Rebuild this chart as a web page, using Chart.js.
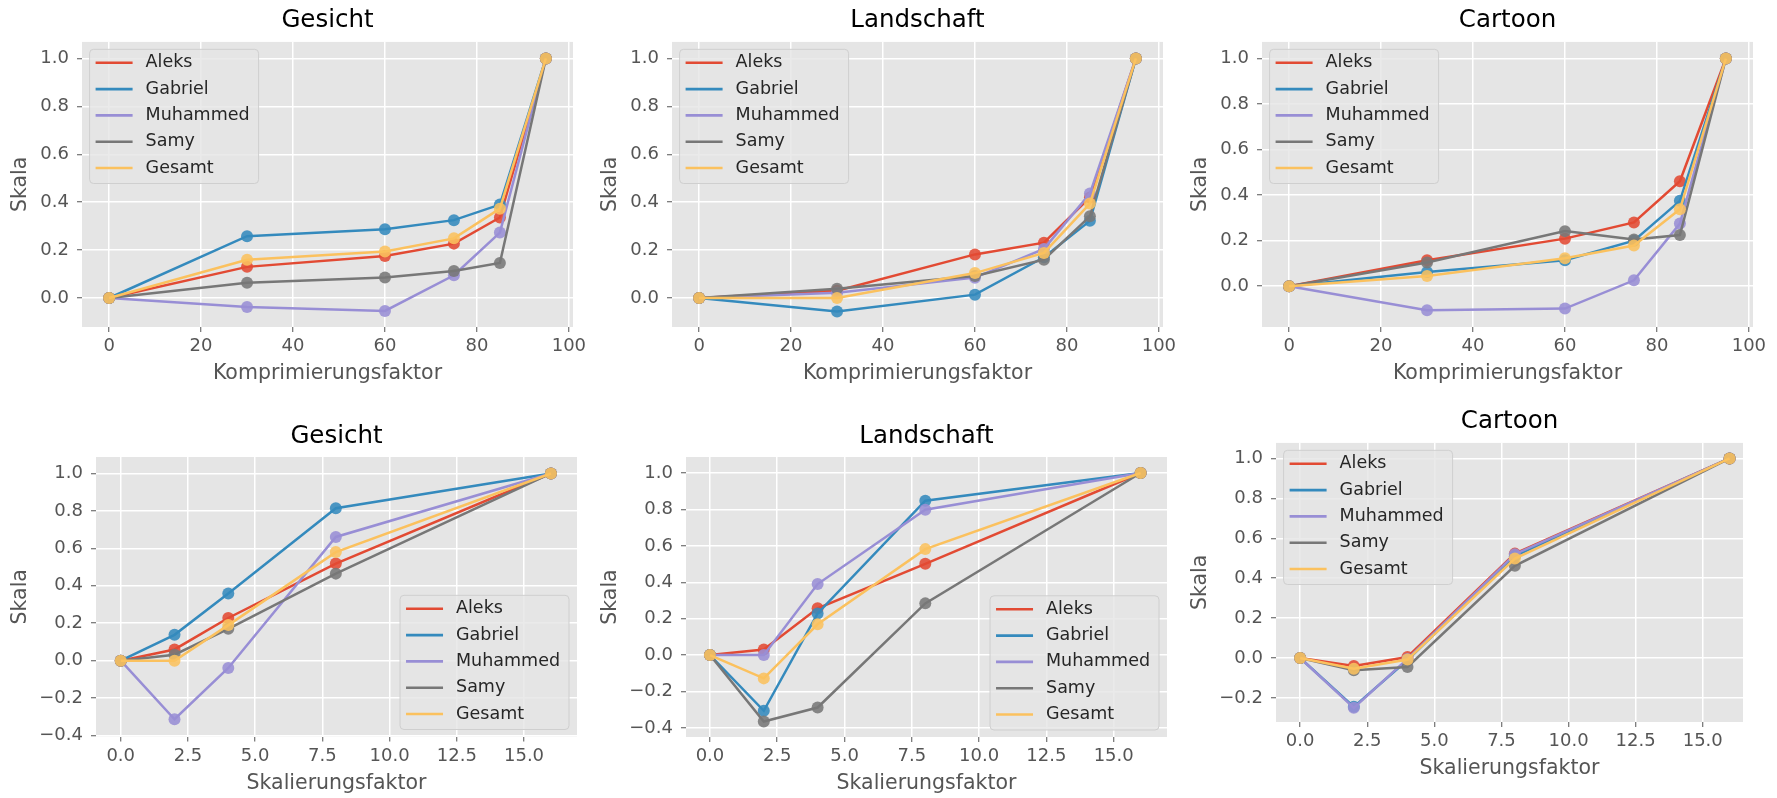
<!DOCTYPE html>
<html>
<head>
<meta charset="utf-8">
<script src="https://cdn.jsdelivr.net/npm/chart.js@4.4.1/dist/chart.umd.min.js"></script>
<style>
  html, body { margin: 0; padding: 0; background: #fff; }
  #fig { position: relative; width: 1777px; height: 798px; overflow: hidden; }
  #fig canvas { position: absolute; }
</style>
</head>
<body>
<div id="fig"></div>
<script>
// Personen + Farben (ggplot-Zyklus)
const names  = ['Aleks', 'Gabriel', 'Muhammed', 'Samy', 'Gesamt'];
const colors = ['#E24A33', '#348ABD', '#988ED5', '#777777', '#FBC15E'];

// x-Werte
const kompX = [0, 30, 60, 75, 85, 95];
const skalX = [0, 2, 4, 8, 16];

// Komprimierung: eine Zeile pro Person (Reihenfolge wie names)
const kompGesicht = [
  [0, 0.130, 0.175, 0.227, 0.336, 1.0],
  [0, 0.258, 0.287, 0.325, 0.390, 1.0],
  [0, -0.038, -0.054, 0.095, 0.273, 1.0],
  [0, 0.064, 0.086, 0.113, 0.146, 1.0],
  [0, 0.160, 0.194, 0.249, 0.373, 1.0],
];
const kompLandschaft = [
  [0, 0.030, 0.182, 0.231, 0.420, 1.0],
  [0, -0.056, 0.014, 0.170, 0.322, 1.0],
  [0, 0.022, 0.085, 0.205, 0.436, 1.0],
  [0, 0.039, 0.092, 0.160, 0.341, 1.0],
  [0, 0.000, 0.104, 0.188, 0.394, 1.0],
];
const kompCartoon = [
  [0, 0.114, 0.209, 0.280, 0.461, 1.0],
  [0, 0.063, 0.114, 0.200, 0.375, 1.0],
  [0, -0.105, -0.098, 0.026, 0.275, 1.0],
  [0, 0.104, 0.242, 0.205, 0.225, 1.0],
  [0, 0.045, 0.123, 0.179, 0.338, 1.0],
];

// Skalierung
const skalGesicht = [
  [0, 0.060, 0.228, 0.519, 1.0],
  [0, 0.138, 0.359, 0.814, 1.0],
  [0, -0.313, -0.039, 0.661, 1.0],
  [0, 0.032, 0.170, 0.465, 1.0],
  [0, 0.000, 0.190, 0.580, 1.0],
];
const skalLandschaft = [
  [0, 0.031, 0.257, 0.501, 1.0],
  [0, -0.306, 0.229, 0.848, 1.0],
  [0, 0.000, 0.390, 0.798, 1.0],
  [0, -0.365, -0.288, 0.284, 1.0],
  [0, -0.128, 0.169, 0.582, 1.0],
];
const skalCartoon = [
  [0, -0.040, 0.005, 0.523, 1.0],
  [0, -0.245, -0.010, 0.510, 1.0],
  [0, -0.250, -0.005, 0.520, 1.0],
  [0, -0.062, -0.045, 0.462, 1.0],
  [0, -0.054, -0.008, 0.498, 1.0],
];

// Tick-Werte
const kompTicks = [0, 20, 40, 60, 80, 100];
const skalTicks = [0, 2.5, 5, 7.5, 10, 12.5, 15];
const yTicksPos = [0, 0.2, 0.4, 0.6, 0.8, 1.0];
const yTicksM2  = [-0.2, 0, 0.2, 0.4, 0.6, 0.8, 1.0];
const yTicksM4  = [-0.4, -0.2, 0, 0.2, 0.4, 0.6, 0.8, 1.0];

const FONT = 'DejaVu Sans';
Chart.defaults.font.family = FONT;

const fmtInt = (v) => String(v);
const fmt1 = (v) => (v < 0 ? '\u2212' : '') + Math.abs(v).toFixed(1);

// Layout je Panel: cell = [left, top, width, height]
const panels = [
  { title: 'Gesicht', xs: kompX, ys: kompGesicht, xLabel: 'Komprimierungsfaktor', xTicks: kompTicks, xFmt: fmtInt,
    yTicks: yTicksPos, xr: [-5.9, 100.9], yr: [-0.121, 1.069],
    cell: [4, 0, 588, 400], yW: 78, padR: 19, tPad: [6, 6.5], xH: 73, xtPad: 13.7, corner: 'tl' },
  { title: 'Landschaft', xs: kompX, ys: kompLandschaft, xLabel: 'Komprimierungsfaktor', xTicks: kompTicks, xFmt: fmtInt,
    yTicks: yTicksPos, xr: [-5.9, 100.9], yr: [-0.121, 1.069],
    cell: [594, 0, 590, 400], yW: 78, padR: 21, tPad: [6, 6.5], xH: 73, xtPad: 13.7, corner: 'tl' },
  { title: 'Cartoon', xs: kompX, ys: kompCartoon, xLabel: 'Komprimierungsfaktor', xTicks: kompTicks, xFmt: fmtInt,
    yTicks: yTicksPos, xr: [-5.9, 100.9], yr: [-0.179, 1.073],
    cell: [1184, 0, 593, 400], yW: 78, padR: 24, tPad: [6, 6.5], xH: 73, xtPad: 13.7, corner: 'tl' },
  { title: 'Gesicht', xs: skalX, ys: skalGesicht, xLabel: 'Skalierungsfaktor', xTicks: skalTicks, xFmt: fmt1,
    yTicks: yTicksM4, xr: [-0.92, 16.97], yr: [-0.405, 1.088],
    cell: [4, 400, 588, 398], yW: 92, padR: 15, tPad: [22, 5.6], xH: 61.5, xtPad: 1.7, corner: 'br' },
  { title: 'Landschaft', xs: skalX, ys: skalLandschaft, xLabel: 'Skalierungsfaktor', xTicks: skalTicks, xFmt: fmt1,
    yTicks: yTicksM4, xr: [-0.89, 16.98], yr: [-0.45, 1.088],
    cell: [594, 400, 590, 398], yW: 92, padR: 17, tPad: [22, 5.6], xH: 61, xtPad: 1.7, corner: 'br' },
  { title: 'Cartoon', xs: skalX, ys: skalCartoon, xLabel: 'Skalierungsfaktor', xTicks: skalTicks, xFmt: fmt1,
    yTicks: yTicksM2, xr: [-0.9, 16.5], yr: [-0.321, 1.078],
    cell: [1184, 400, 593, 398], yW: 92, padR: 34, tPad: [6.5, 7], xH: 76, xtPad: 16.7, corner: 'tl' },
];

// grauer Plot-Hintergrund
const plotBg = {
  id: 'plotBg',
  beforeDraw(chart) {
    const { ctx, chartArea: a } = chart;
    ctx.save();
    ctx.fillStyle = '#E5E5E5';
    ctx.fillRect(a.left, a.top, a.width, a.height);
    ctx.restore();
  }
};

// Legende im Plot (oben links / unten rechts), wie bei matplotlib
const boxLegend = {
  id: 'boxLegend',
  afterDatasetsDraw(chart, args, opts) {
    const { ctx, chartArea: a } = chart;
    const sets = chart.data.datasets;
    ctx.save();
    ctx.font = `17.5px "${FONT}"`;
    const tw = Math.max(...sets.map(d => ctx.measureText(d.label).width));
    const rowH = 26.3;
    const w = 6 + 37 + 13 + tw + 9;
    const h = 13.5 + rowH * (sets.length - 1) + 15.5;
    const x = opts.corner === 'br' ? a.right - 8 - w : a.left + 7.6;
    const y = opts.corner === 'br' ? a.bottom - 7 - h : a.top + 7.4;
    ctx.beginPath();
    ctx.roundRect(x, y, w, h, 4);
    ctx.fillStyle = 'rgba(229,229,229,0.8)';
    ctx.fill();
    ctx.strokeStyle = '#cfcfcf';
    ctx.lineWidth = 1;
    ctx.stroke();
    ctx.textBaseline = 'middle';
    ctx.textAlign = 'left';
    sets.forEach((d, i) => {
      const cy = y + 13.5 + i * rowH;
      ctx.strokeStyle = d.borderColor;
      ctx.lineWidth = 2.6;
      ctx.beginPath();
      ctx.moveTo(x + 6, cy);
      ctx.lineTo(x + 43, cy);
      ctx.stroke();
      ctx.fillStyle = '#262626';
      ctx.fillText(d.label, x + 56, cy);
    });
    ctx.restore();
  }
};

const fig = document.getElementById('fig');

panels.forEach((p) => {
  const [cx, cy, cw, ch] = p.cell;
  const cv = document.createElement('canvas');
  cv.width = cw; cv.height = ch;
  cv.style.left = cx + 'px'; cv.style.top = cy + 'px';
  cv.style.width = cw + 'px'; cv.style.height = ch + 'px';
  fig.appendChild(cv);

  const datasets = p.ys.map((row, i) => ({
    label: names[i],
    data: p.xs.map((x, j) => ({ x, y: row[j] })),
    borderColor: colors[i],
    backgroundColor: colors[i],
    pointBackgroundColor: colors[i] + 'E0',
    pointBorderWidth: 0,
    pointRadius: 6,
    borderWidth: 2.5,
    tension: 0,
    order: names.length - i,   // Gesamt oben, wie bei matplotlib
  }));

  new Chart(cv.getContext('2d'), {
    type: 'line',
    data: { datasets },
    options: {
      responsive: false,
      animation: false,
      devicePixelRatio: 1,
      layout: { padding: { left: 0, right: p.padR, top: 0, bottom: 0 } },
      plugins: {
        legend: { display: false },
        tooltip: { enabled: false },
        title: {
          display: true, text: p.title, color: '#000', fullSize: false,
          font: { size: 24.5, weight: 'normal' },
          padding: { top: p.tPad[0], bottom: p.tPad[1] }
        },
        boxLegend: { corner: p.corner }
      },
      scales: {
        x: {
          type: 'linear', min: p.xr[0], max: p.xr[1],
          afterBuildTicks: (s) => { s.ticks = p.xTicks.map(v => ({ value: v })); },
          afterFit: (s) => { s.height = p.xH; },
          border: { display: false },
          grid: { color: '#ffffff', lineWidth: 1.5, tickColor: '#555555', tickLength: 5, tickWidth: 1 },
          ticks: { color: '#555555', font: { size: 18 }, padding: 4, maxRotation: 0, autoSkip: false,
                   callback: (v) => p.xFmt(v) },
          title: { display: true, text: p.xLabel, color: '#555555', font: { size: 20.5 },
                   padding: { top: 0, bottom: p.xtPad } }
        },
        y: {
          type: 'linear', min: p.yr[0], max: p.yr[1],
          afterBuildTicks: (s) => { s.ticks = p.yTicks.map(v => ({ value: v })); },
          afterFit: (s) => { s.width = p.yW; },
          border: { display: false },
          grid: { color: '#ffffff', lineWidth: 1.5, tickColor: '#555555', tickLength: 5, tickWidth: 1 },
          ticks: { color: '#555555', font: { size: 18 }, padding: 8, autoSkip: false,
                   callback: (v) => fmt1(v) },
          title: { display: true, text: 'Skala', color: '#555555', font: { size: 20.5 },
                   padding: { top: 4, bottom: 0 } }
        }
      }
    },
    plugins: [plotBg, boxLegend]
  });
});
</script>
</body>
</html>
